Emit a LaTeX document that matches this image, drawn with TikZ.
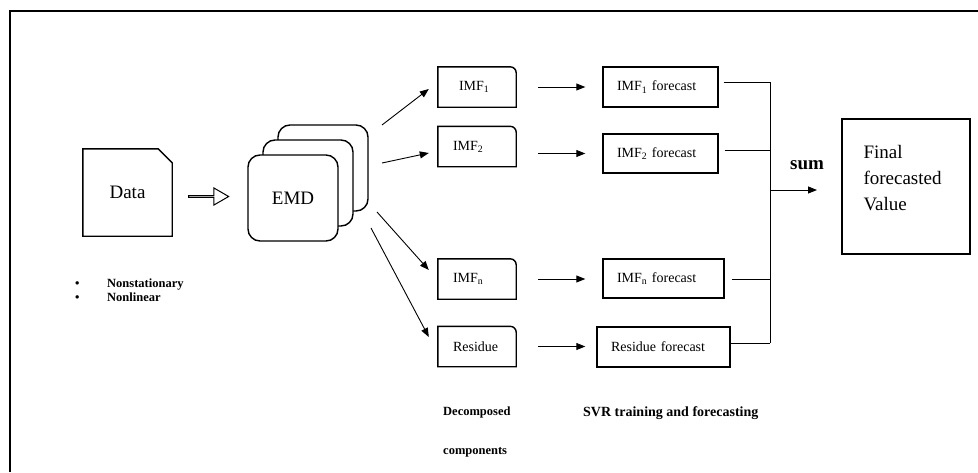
\documentclass[tikz,border=0pt]{standalone}
\usepackage{fontspec}
\setmainfont{Liberation Serif}
\usetikzlibrary{arrows.meta,shapes.arrows,calc}

\begin{document}
\begin{tikzpicture}[x=1pt,y=-1pt,
  boxline/.style={line width=1.4pt},
  wire/.style={line width=0.9pt},
  arr/.style={line width=0.9pt,-{Triangle[length=9pt,width=7pt]}},
  lbl/.style={font=\fontsize{14}{16}\selectfont},
  big/.style={font=\fontsize{19}{26}\selectfont},
  notes/.style={font=\fontsize{12.5}{14}\selectfont\bfseries},
  imfbox/.style={minimum width=78pt, minimum height=40pt, inner xsep=15pt,
    text width=48pt, align=left, lbl},
  fcbox/.style={draw, boxline, minimum height=40pt, inner xsep=14pt,
    align=left, lbl},
  emdbox/.style={draw, boxline, fill=white, rounded corners=12pt,
    minimum width=90pt, minimum height=86pt},
]
\useasboundingbox (0,0) rectangle (978,472);

% outer frame (top and left edges)
\draw[line width=1.5pt] (10,472) -- (10,11) -- (978,11);

% input data sheet with a folded corner
\node[minimum width=89pt, minimum height=87pt, big] (data) at (127.5,192.5) {Data};
\draw[boxline] (data.south west) -- (data.north west) -- ([xshift=-14pt]data.north east)
  -- ([yshift=-14pt]data.north east) -- (data.south east) -- cycle;

\node[notes, anchor=west, align=left, inner sep=0pt] (props) at (75,290)
  {\makebox[32pt][l]{\textbullet}Nonstationary\\\makebox[32pt][l]{\textbullet}Nonlinear};

% hollow arrow into the decomposition
\node[single arrow, draw, line width=1pt, minimum height=40pt, minimum width=17pt,
  single arrow head extend=5pt, single arrow tip angle=60, inner sep=0pt] (feed) at (208,196.5) {};

% stacked EMD sheets
\node[emdbox] (emdback) at (323,168) {};
\node[emdbox] (emdmid) at (308,183) {};
\node[emdbox, big] (emd) at (293,198) {EMD};

% decomposed components
\node[imfbox, inner xsep=21pt, text width=36pt] (imf1) at (477,87) {IMF\textsubscript{1}};
\node[imfbox] (imf2) at (477,146.5) {IMF\textsubscript{2}};
\node[imfbox] (imfn) at (477,279) {IMF\textsubscript{n}};
\node[imfbox] (res) at (477,346.5) {Residue};
\foreach \n in {imf1,imf2,imfn,res}
  \draw[boxline] (\n.south west) -- (\n.north west) -- ([xshift=-6pt]\n.north east)
    arc[start angle=90, end angle=0, radius=6pt] -- (\n.south east) -- cycle;

% fan-out from EMD
\coordinate (e1) at (382,125);
\coordinate (e2) at (382,163);
\coordinate (e3) at (377,212);
\coordinate (e4) at (371,228);
\draw[arr] (e1) -- ($(imf1.west)+(-9,2)$);
\draw[arr] (e2) -- ($(imf2.west)+(-9,6.5)$);
\draw[arr] (e3) -- ($(imfn.west)+(-9,-9)$);
\draw[arr] (e4) -- ($(res.west)+(-9,-9.5)$);

% SVR forecasts
\node[fcbox, minimum width=115pt, text width=87pt] (f1) at (660.5,87) {IMF\textsubscript{1} forecast};
\node[fcbox, minimum width=115pt, text width=87pt, minimum height=39pt] (f2) at (660.5,153.5) {IMF\textsubscript{2} forecast};
\node[fcbox, minimum width=121pt, text width=93pt, minimum height=39pt] (fn) at (663.5,278.5) {IMF\textsubscript{n} forecast};
\node[fcbox, minimum width=133pt, text width=105pt] (fr) at (663.5,347) {Residue forecast};

\draw[arr] ($(imf1.east)+(22,0)$) -- ($(imf1.east -| f1.west)+(-17,0)$);
\draw[arr] ($(imf2.east |- f2.west)+(22,0)$) -- ($(f2.west)+(-17,0)$);
\draw[arr] ($(imfn.east)+(22,0)$) -- ($(imfn.east -| fn.west)+(-17,0)$);
\draw[arr] ($(res.east)+(22,0)$) -- ($(res.east -| fr.west)+(-11,0)$);

% summation bus
\coordinate (bustop) at (770,82);
\coordinate (busbot) at (770,343);
\draw[wire] (bustop) -- (busbot);
\draw[wire] ($(f1.east)+(5,-5)$) -- (bustop);
\draw[wire] ($(f2.east)+(6,-3.5)$) -- ($(f2.east -| bustop)+(0,-3.5)$);
\draw[wire] ($(fn.east)+(7,0.5)$) -- ($(fn.east -| bustop)+(0,0.5)$);
\draw[wire] ($(fr.east)+(0,-4)$) -- (busbot);

\coordinate (sumstart) at (770,190);
\coordinate (sumend) at (817,190);
\draw[arr] (sumstart) -- (sumend);
\node[big, font=\fontsize{19}{26}\selectfont\bfseries] (sumlbl) at (807,165) {sum};

% final result
\node[draw, boxline, minimum width=128pt, minimum height=135pt] (final) at (906,186.5) {};
\node[big, anchor=north west, align=left, inner sep=0pt] (finaltxt)
  at ($(final.north west)+(22,27)$) {Final\\forecasted\\Value};

% stage captions
\node[notes, anchor=west, align=left, inner sep=0pt, font=\fontsize{12.5}{39}\selectfont\bfseries]
  (deccap) at (443,432) {Decomposed\\components};
\node[notes, anchor=west, inner sep=0pt, font=\fontsize{14}{16}\selectfont\bfseries]
  (svrcap) at (583,413) {SVR training and forecasting};
\end{tikzpicture}
\end{document}
